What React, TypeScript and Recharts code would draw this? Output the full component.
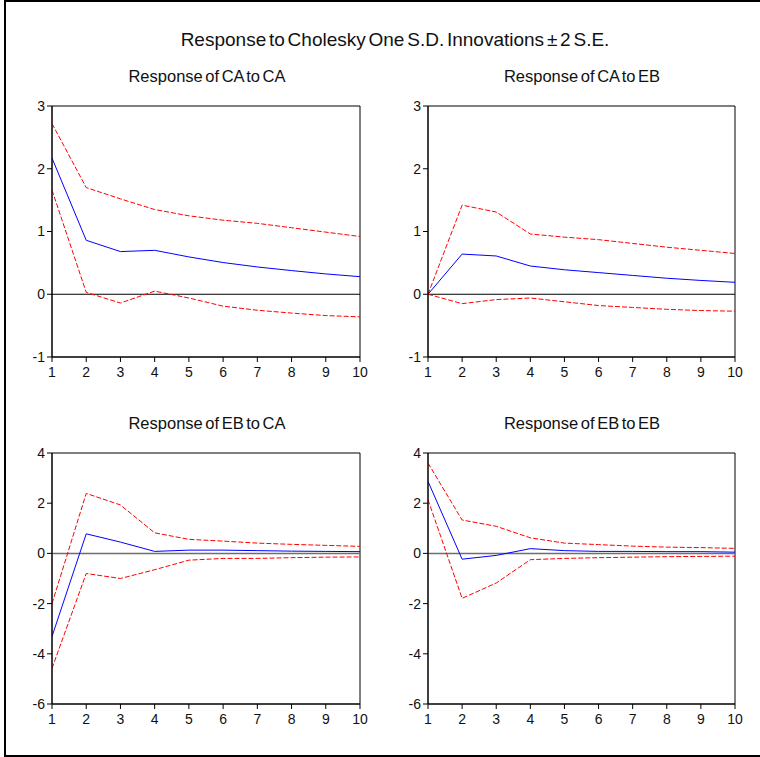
import React from 'react';
import { LineChart, Line, XAxis, YAxis, ReferenceLine, ReferenceArea } from 'recharts';

const periods = [1, 2, 3, 4, 5, 6, 7, 8, 9, 10];

const caCaResp = [2.17, 0.86, 0.68, 0.70, 0.595, 0.505, 0.435, 0.377, 0.324, 0.28];
const caCaUpper = [2.72, 1.70, 1.52, 1.35, 1.25, 1.18, 1.13, 1.06, 0.99, 0.92];
const caCaLower = [1.66, 0.03, -0.14, 0.05, -0.06, -0.19, -0.255, -0.30, -0.34, -0.36];

const caEbResp = [0, 0.64, 0.61, 0.45, 0.39, 0.345, 0.30, 0.255, 0.22, 0.19];
const caEbUpper = [0, 1.42, 1.31, 0.96, 0.91, 0.87, 0.81, 0.75, 0.70, 0.65];
const caEbLower = [0, -0.15, -0.085, -0.06, -0.12, -0.18, -0.21, -0.24, -0.26, -0.27];

const ebCaResp = [-3.31, 0.78, 0.45, 0.08, 0.13, 0.13, 0.11, 0.09, 0.08, 0.07];
const ebCaUpper = [-2.0, 2.39, 1.93, 0.82, 0.56, 0.49, 0.41, 0.36, 0.32, 0.28];
const ebCaLower = [-4.58, -0.80, -1.0, -0.65, -0.27, -0.20, -0.20, -0.17, -0.15, -0.14];

const ebEbResp = [2.87, -0.23, -0.08, 0.19, 0.11, 0.08, 0.08, 0.07, 0.07, 0.05];
const ebEbUpper = [3.60, 1.33, 1.08, 0.62, 0.41, 0.35, 0.29, 0.25, 0.23, 0.20];
const ebEbLower = [2.14, -1.79, -1.18, -0.25, -0.20, -0.17, -0.15, -0.13, -0.12, -0.11];

const topTicks = [-1, 0, 1, 2, 3];
const bottomTicks = [-6, -4, -2, 0, 2, 4];

const mainTitle = 'Response to Cholesky One S.D. Innovations \u00B1 2 S.E.';

const FONT = '"Liberation Sans", Arial, sans-serif';

function build(resp: number[], upper: number[], lower: number[]) {
  return periods.map((p, i) => ({ p, resp: resp[i], upper: upper[i], lower: lower[i] }));
}

type PanelProps = {
  left: number;
  top: number;
  yWidth: number;
  marginTop: number;
  marginRight: number;
  marginBottom: number;
  data: any[];
  ticks: number[];
  zeroColor: string;
  zeroWidth: number;
};

function Panel(props: PanelProps) {
  const { left, top, yWidth, marginTop, marginRight, marginBottom, data, ticks, zeroColor, zeroWidth } = props;
  const yMin = ticks[0];
  const yMax = ticks[ticks.length - 1];
  return (
    <div style={{ position: 'absolute', left, top }}>
      <LineChart
        width={380}
        height={300}
        data={data}
        margin={{ top: marginTop, right: marginRight, bottom: marginBottom, left: 0 }}
      >
        <XAxis
          dataKey="p"
          type="number"
          domain={[1, 10]}
          ticks={periods}
          interval={0}
          height={25}
          tickSize={5}
          tickMargin={5}
          stroke="#000"
          tick={{ fill: '#111', fontSize: 14, fontFamily: FONT }}
          allowDataOverflow
        />
        <YAxis
          type="number"
          domain={[yMin, yMax]}
          ticks={ticks}
          interval={0}
          width={yWidth}
          tickSize={5}
          tickMargin={2}
          stroke="#000"
          tick={{ fill: '#111', fontSize: 14, fontFamily: FONT }}
          allowDataOverflow
        />
        <ReferenceArea x1={1} x2={10} y1={yMin} y2={yMax} fill="none" fillOpacity={0} stroke="#000" strokeWidth={1} />
        <ReferenceLine y={0} stroke={zeroColor} strokeWidth={zeroWidth} />
        <Line dataKey="upper" stroke="#ff0000" strokeWidth={1} strokeDasharray="5 2" dot={false} isAnimationActive={false} />
        <Line dataKey="lower" stroke="#ff0000" strokeWidth={1} strokeDasharray="5 2" dot={false} isAnimationActive={false} />
        <Line dataKey="resp" stroke="#0000ff" strokeWidth={1} dot={false} isAnimationActive={false} />
      </LineChart>
    </div>
  );
}

function Label({ text, cx, cy, size, ws }: { text: string; cx: number; cy: number; size: number; ws: number }) {
  return (
    <div
      style={{
        position: 'absolute',
        left: cx - 300,
        width: 600,
        top: cy - 12,
        height: 24,
        lineHeight: '24px',
        textAlign: 'center',
        fontFamily: FONT,
        fontSize: size,
        color: '#111',
        whiteSpace: 'nowrap',
        wordSpacing: ws,
      }}
    >
      {text}
    </div>
  );
}

export default function App() {
  return (
    <div style={{ position: 'absolute', left: 0, top: 0, width: 760, height: 757, background: '#fff', overflow: 'hidden' }}>
      <div
        style={{
          position: 'absolute',
          left: 4,
          top: 0,
          width: 800,
          height: 757,
          boxSizing: 'border-box',
          borderTop: '2px solid #000',
          borderLeft: '2px solid #000',
          borderBottom: '2px solid #000',
        }}
      />
      <Label text={mainTitle} cx={395} cy={40} size={19} ws={-2.5} />
      <Label text="Response of CA to CA" cx={207} cy={76} size={16.5} ws={-2} />
      <Label text="Response of CA to EB" cx={582} cy={76} size={16.5} ws={-2} />
      <Label text="Response of EB to CA" cx={207} cy={423} size={16.5} ws={-2} />
      <Label text="Response of EB to EB" cx={582} cy={423} size={16.5} ws={-2} />
      <Panel left={0} top={90} yWidth={52} marginTop={16} marginRight={20} marginBottom={8}
        data={build(caCaResp, caCaUpper, caCaLower)} ticks={topTicks} zeroColor="#000" zeroWidth={1} />
      <Panel left={380} top={90} yWidth={48} marginTop={16} marginRight={25} marginBottom={8}
        data={build(caEbResp, caEbUpper, caEbLower)} ticks={topTicks} zeroColor="#000" zeroWidth={1} />
      <Panel left={0} top={440} yWidth={52} marginTop={13} marginRight={20} marginBottom={11}
        data={build(ebCaResp, ebCaUpper, ebCaLower)} ticks={bottomTicks} zeroColor="#6e6e6e" zeroWidth={1.5} />
      <Panel left={380} top={440} yWidth={48} marginTop={13} marginRight={25} marginBottom={11}
        data={build(ebEbResp, ebEbUpper, ebEbLower)} ticks={bottomTicks} zeroColor="#6e6e6e" zeroWidth={1.5} />
    </div>
  );
}
